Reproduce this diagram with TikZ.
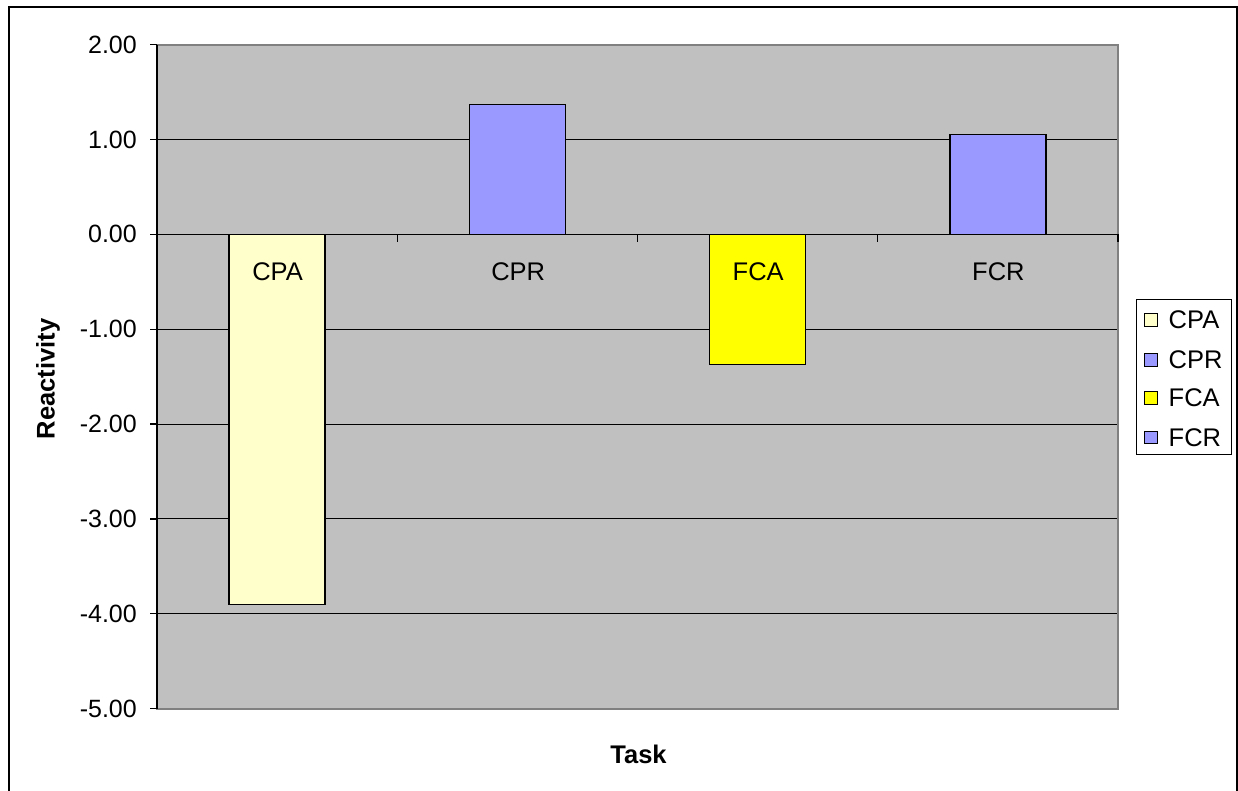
\documentclass[tikz,border=0pt]{standalone}
\usepackage{fontspec}
\setmainfont{Liberation Sans}
\definecolor{plotbg}{HTML}{C0C0C0}
\definecolor{plotedge}{HTML}{808080}
\definecolor{paleyel}{HTML}{FFFFCC}
\definecolor{lilac}{HTML}{9999FF}
\definecolor{brightyel}{HTML}{FFFF00}
\tikzset{
  ticklab/.style={anchor=east, inner sep=0pt, font=\fontsize{25}{27}\selectfont},
  catlab/.style={inner sep=0pt, font=\fontsize{25.5}{27}\selectfont},
  axtitle/.style={inner sep=0pt, font=\fontsize{25.5}{27}\selectfont\bfseries},
  bar/.style={draw=black, line width=1.3pt},
  grid/.style={draw=black, line width=1pt},
  legmark/.style={draw=black, line width=1.1pt, minimum width=13pt, minimum height=12.5pt, inner sep=0pt},
  legtext/.style={anchor=west, inner sep=0pt, font=\fontsize{25.5}{27}\selectfont}
}
\begin{document}
\begin{tikzpicture}[x=1pt,y=-1pt]
\useasboundingbox (0,0) rectangle (1238,791);
\clip (0,0) rectangle (1238,791);
\fill[white] (0,0) rectangle (1238,791);
% outer frame
\draw[line width=2pt] (9,7) rectangle (1237,830);
% plot area
\fill[plotbg] (157,44.6) rectangle (1118,708.6);
% gridlines
\foreach \v in {2,1,-1,-2,-3,-4,-5}{
  \draw[grid] (150,{234.3-94.86*\v}) -- (1118,{234.3-94.86*\v});
}
\draw[plotedge, line width=2pt] (157,44.6) rectangle (1118,708.6);
% bars
\fill[paleyel, bar] (229.1,234.3) rectangle (325.1,{234.3+94.86*3.90});
\fill[lilac, bar] (469.4,234.3) rectangle (565.4,{234.3-94.86*1.37});
\fill[brightyel, bar] (709.6,234.3) rectangle (805.6,{234.3+94.86*1.37});
\fill[lilac, bar] (949.9,234.3) rectangle (1045.9,{234.3-94.86*1.05});
% axes
\draw[line width=1.3pt] (157,44.6) -- (157,708.6);
\foreach \v in {2,1,0,-1,-2,-3,-4,-5}{
  \draw[line width=1.3pt] (150,{234.3-94.86*\v}) -- (157,{234.3-94.86*\v});
}
\draw[line width=1.3pt] (150,234.3) -- (1118,234.3);
\foreach \i in {0,1,2,3,4}{
  \draw[line width=1.3pt] ({157+240.25*\i},234.3) -- ({157+240.25*\i},242.5);
}
% tick labels
\node[ticklab] (t2) at (137,44.6) {2.00};
\node[ticklab] (t1) at (137,139.4) {1.00};
\node[ticklab] (t0) at (137,234.3) {0.00};
\node[ticklab] (tm1) at (137,329.2) {-1.00};
\node[ticklab] (tm2) at (137,424.0) {-2.00};
\node[ticklab] (tm3) at (137,518.9) {-3.00};
\node[ticklab] (tm4) at (137,613.7) {-4.00};
\node[ticklab] (tm5) at (137,708.6) {-5.00};
% category labels
\node[catlab] (cCPA) at (277.6,272) {CPA};
\node[catlab] (cCPR) at (518.2,272) {CPR};
\node[catlab] (cFCA) at (758.2,272) {FCA};
\node[catlab] (cFCR) at (998.4,272) {FCR};
% axis titles
\node[axtitle, rotate=90] (ytitle) at (48,379) {Reactivity};
\node[axtitle] (xtitle) at (638.5,754) {Task};
% legend
\draw[line width=1pt, fill=white] (1136,299.5) rectangle (1231.5,454.5);
\node[legmark, fill=paleyel] (m1) at (1151,320) {};
\node[legtext] (l1) at (1168.5,320) {CPA};
\node[legmark, fill=lilac] (m2) at (1151,360) {};
\node[legtext] (l2) at (1168.5,360) {CPR};
\node[legmark, fill=brightyel] (m3) at (1151,398) {};
\node[legtext] (l3) at (1168.5,398) {FCA};
\node[legmark, fill=lilac] (m4) at (1151,437.5) {};
\node[legtext] (l4) at (1168.5,437.5) {FCR};
\end{tikzpicture}
\end{document}
